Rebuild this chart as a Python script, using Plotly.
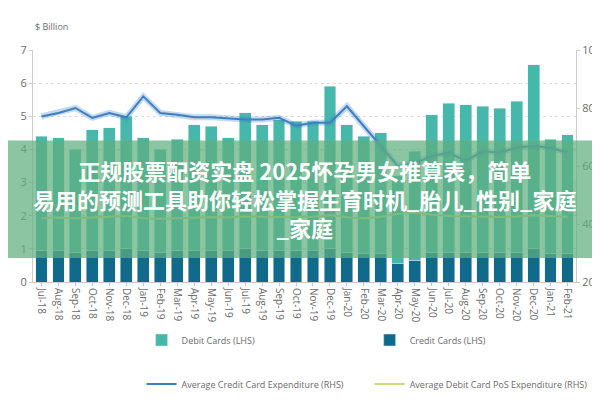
import plotly.graph_objects as go

months = ['Jul-18', 'Aug-18', 'Sep-18', 'Oct-18', 'Nov-18', 'Dec-18', 'Jan-19', 'Feb-19',
          'Mar-19', 'Apr-19', 'May-19', 'Jun-19', 'Jul-19', 'Aug-19', 'Sep-19', 'Oct-19',
          'Nov-19', 'Dec-19', 'Jan-20', 'Feb-20', 'Mar-20', 'Apr-20', 'May-20', 'Jun-20',
          'Jul-20', 'Aug-20', 'Sep-20', 'Oct-20', 'Nov-20', 'Dec-20', 'Jan-21', 'Feb-21']

# $ billion, LHS
credit_cards = [0.95, 0.95, 0.9, 0.95, 0.95, 1.0, 0.95, 0.9,
                0.95, 0.95, 0.95, 0.95, 1.0, 0.95, 0.95, 0.95,
                0.95, 1.0, 0.9, 0.85, 0.85, 0.55, 0.65, 0.9,
                0.9, 0.9, 0.9, 0.9, 0.9, 1.0, 0.85, 0.85]
debit_cards = [3.45, 3.4, 3.1, 3.65, 3.7, 4.0, 3.4, 3.1,
               3.35, 3.8, 3.75, 3.4, 4.1, 3.8, 3.95, 3.9,
               3.9, 4.9, 3.85, 3.55, 3.65, 2.65, 3.3, 4.15,
               4.5, 4.45, 4.4, 4.35, 4.55, 5.55, 3.45, 3.6]

# € per transaction, RHS
avg_credit = [77.1, 78.3, 80.0, 76.6, 78.3, 76.8, 84.0, 78.3,
              77.7, 76.8, 76.8, 76.3, 76.0, 76.0, 76.6, 73.9,
              74.9, 74.9, 80.6, 73.7, 66.9, 60.0, 61.1, 63.4,
              64.6, 61.7, 65.1, 64.6, 66.3, 66.9, 66.3, 64.6]
avg_debit = [42.0, 42.2, 42.0, 42.3, 42.5, 42.8, 42.0, 41.8,
             42.0, 42.3, 42.4, 42.2, 42.6, 42.5, 42.4, 42.3,
             42.5, 43.0, 42.3, 41.9, 42.5, 43.5, 44.0, 43.2,
             42.8, 42.6, 42.5, 42.4, 42.6, 43.0, 42.8, 42.5]

teal = '#45b8ab'
navy = '#0f6a8c'
blue = '#3d80c2'
lime = '#cddc7a'
grey = '#6b6b6b'

fig = go.Figure()
fig.add_bar(x=months, y=credit_cards, name='Credit Cards (LHS)', marker_color=navy,
            yaxis='y', legendrank=2)
fig.add_bar(x=months, y=debit_cards, name='Debit Cards (LHS)', marker_color=teal,
            yaxis='y', legendrank=1)
fig.add_scatter(x=months, y=avg_credit, yaxis='y2', mode='lines', showlegend=False,
                line=dict(color='rgba(61,128,194,0.3)', width=6), hoverinfo='skip')
fig.add_scatter(x=months, y=avg_credit, yaxis='y2', mode='lines', legend='legend2',
                name='Average Credit Card Expenditure (RHS)', line=dict(color=blue, width=2))
fig.add_scatter(x=months, y=avg_debit, yaxis='y2', mode='lines', legend='legend2',
                name='Average Debit Card PoS Expenditure (RHS)', line=dict(color=lime, width=2))

leg = dict(orientation='h', x=0.2, xanchor='left', yanchor='middle', yref='container',
           entrywidth=0.42, entrywidthmode='fraction', traceorder='normal',
           font=dict(size=9, color=grey), bgcolor='rgba(0,0,0,0)')

fig.update_layout(
    width=600, height=400,
    margin=dict(l=25, r=32, t=42, b=126, autoexpand=False),
    barmode='stack', bargap=0.3,
    plot_bgcolor='white', paper_bgcolor='white',
    font=dict(family='Open Sans', color=grey, size=11),
    xaxis=dict(tickangle=90, tickfont=dict(size=10), showgrid=False, ticks='outside',
               tickcolor='#f0b0b0', ticklen=3, showline=True, linecolor='#cccccc'),
    yaxis=dict(range=[0, 7], dtick=1, showgrid=True, gridcolor='#dddddd', griddash='dot',
               showline=True, linecolor='#cccccc', ticks='outside', tickcolor='#cccccc',
               ticklen=3, zeroline=False),
    yaxis2=dict(range=[20, 100], dtick=20, overlaying='y', side='right', showgrid=False,
                showline=True, linecolor='#cccccc', ticks='outside', tickcolor='#cccccc',
                ticklen=3, zeroline=False),
    legend=dict(leg, y=0.17),
    legend2=dict(leg, y=0.06),
)

fig.add_annotation(text='$ Billion', x=0.0, y=1.14, xref='paper', yref='paper',
                   xanchor='left', showarrow=False, font=dict(size=9, color=grey))
fig.add_annotation(text='€', x=1.045, y=1.14, xref='paper', yref='paper',
                   xanchor='right', showarrow=False, font=dict(size=9, color=grey))

# overlaid banner
fig.add_shape(type='rect', xref='paper', yref='paper', x0=-0.1, x1=1.1, y0=0.103, y1=0.61,
              fillcolor='rgba(95,175,125,0.72)', line_width=0, layer='above')
fig.add_annotation(text='<b>正规股票配资实盘 2025怀孕男女推算表，简单<br>易用的预测工具助你轻松掌握生育时机_胎儿_性别_家庭<br>_家庭</b>',
                   x=0.5, y=0.36, xref='paper', yref='paper', showarrow=False,
                   font=dict(family='Noto Sans CJK SC', size=22, color='white'),
                   align='center')

fig.write_html('out.html')
